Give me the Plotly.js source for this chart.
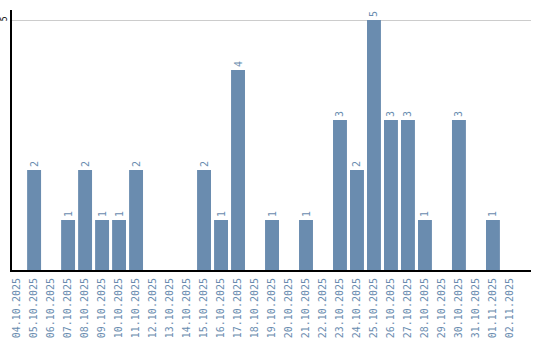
<!DOCTYPE html>
<html><head><meta charset="utf-8">
<script src="https://cdn.plot.ly/plotly-3.0.1.min.js"></script>
<style>html,body{margin:0;padding:0;background:#fff}#chart{width:540px;height:340px}</style>
</head><body><div id="chart"></div>
<script>
const dates = ["04.10.2025","05.10.2025","06.10.2025","07.10.2025","08.10.2025","09.10.2025","10.10.2025","11.10.2025","12.10.2025","13.10.2025","14.10.2025","15.10.2025","16.10.2025","17.10.2025","18.10.2025","19.10.2025","20.10.2025","21.10.2025","22.10.2025","23.10.2025","24.10.2025","25.10.2025","26.10.2025","27.10.2025","28.10.2025","29.10.2025","30.10.2025","31.10.2025","01.11.2025","02.11.2025"];
const counts = [0,2,0,1,2,1,1,2,0,0,0,2,1,4,0,1,0,1,0,3,2,5,3,3,1,0,3,0,1,0];
const labels = counts.map(v => v > 0 ? String(v) : "");
const barColor = "#6a8caf";
Plotly.newPlot("chart", [{
  type: "bar", x: dates, y: counts, text: labels,
  textposition: "outside", textangle: -90, cliponaxis: false,
  textfont: {family: "DejaVu Sans Mono, monospace", size: 10, color: barColor},
  marker: {color: barColor}, hoverinfo: "none"
}], {
  width: 540, height: 340,
  margin: {l: 12, r: 9, t: 10, b: 70},
  paper_bgcolor: "#fff", plot_bgcolor: "#fff",
  showlegend: false, bargap: 0.18,
  xaxis: {type: "category", range: [-0.3, 30.24], automargin: false, tickangle: -90, showline: true, linecolor: "#000", linewidth: 2,
    tickfont: {family: "DejaVu Sans Mono, monospace", size: 10, color: barColor}, showgrid: false, ticks: "", ticklabelstandoff: 2},
  yaxis: {range: [0, 5.2], automargin: false, tickvals: [5], ticktext: ["5"], tickangle: -90, showline: true, linecolor: "#000", linewidth: 2,
    gridcolor: "#cccccc", zeroline: false, ticks: "", ticklabelstandoff: 0,
    tickfont: {family: "DejaVu Sans Mono, monospace", size: 8, color: "#000"}}
}, {staticPlot: true});
</script></body></html>
